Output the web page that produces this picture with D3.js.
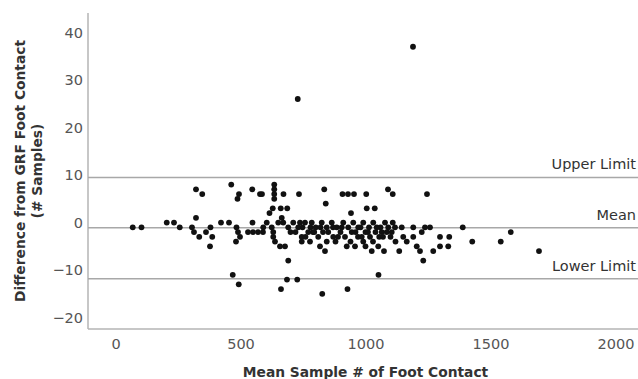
<!DOCTYPE html>
<html>
<head>
<meta charset="utf-8">
<script src="https://cdn.jsdelivr.net/npm/d3@7"></script>
<style>
  html, body { margin: 0; padding: 0; background: #fff; }
  svg { display: block; }
  text { font-family: "DejaVu Sans", sans-serif; }
</style>
</head>
<body>
<svg id="chart" width="638" height="379"></svg>
<script>
// Mean sample index of foot contact (x) and difference from GRF foot contact in samples (y)
const meanSample = [
  69, 104, 205, 234, 257, 322, 347, 322, 306, 314, 335, 362, 380, 387, 378, 422, 454,
  463, 494, 488, 547, 578, 586, 635, 635, 635, 635, 672, 616, 629, 661, 687, 734,
  835, 841, 908, 930, 954, 1003, 1005, 1037, 942, 1090, 1109, 1246, 665,
  469, 493, 686, 727, 662, 827, 928, 1052, 691, 1231,
  729, 1190,
  1298, 1335, 1298, 1331, 1389, 1427, 1541, 1581, 1694,
  484, 490, 498, 482, 530, 550, 570, 590, 548, 591, 605, 625, 631, 651, 671, 691,
  711, 731, 631, 638, 658, 678,
  738, 758, 785, 801, 825, 845, 865, 885, 911, 931, 951, 971, 991, 1014, 1031,
  745, 771, 811, 851, 871, 918, 945, 985, 1018,
  745, 778, 818, 845, 925, 958, 991, 1025, 838,
  1045, 1065, 1078, 1091, 1109, 1118, 1105, 1145, 1151, 1165, 1191, 1191, 1225,
  1238, 1258, 1205, 1218, 1051, 1074, 1135, 1271,
  748, 790, 830, 870, 900, 960, 1000, 1040, 780, 820, 980, 905, 1060, 700, 720,
  760, 890, 1010, 1100,
  1030, 1070, 1085, 1120, 940, 970, 880, 795, 1000, 1055
];
const sampleDiff = [
  -1, -1, 0, 0, -1, 7, 6, 1, -1, -2, -3, -2, -1, -3, -5, 0, 0,
  8, 6, 5, 7, 6, 6, 8, 7, 6, 5, 6, 2, 3, 3, 3, 6,
  7, 4, 6, 6, 6, 6, 3, 3, 2, 7, 6, 6, 1,
  -11, -13, -12, -12, -14, -15, -14, -11, -8, -8,
  26, 37,
  -3, -3, -5, -5, -1, -4, -4, -2, -6,
  -1, -2, -3, -4, -2, -2, -2, -2, 0, -1, 0, -1, -2, 0, 0, -1,
  0, -1, -3, -4, -5, -5,
  0, 0, 0, -1, 0, -1, 0, -1, 0, -1, 0, -1, 0, -1, 0,
  -3, -2, -3, -2, -3, -3, -2, -3, -3,
  -4, -4, -5, -4, -5, -5, -4, -6, -6,
  -1, -2, 0, -1, 0, -1, -2, -1, -3, -4, -1, -3, -2,
  -1, -1, -5, -6, -5, -6, -6, -6,
  -1, -2, -2, -1, -2, -2, -2, -2, -1, -1, -1, -1, -1, -2, -2,
  -3, -3, -2, -3,
  -4, -3, -2, -4, -4, -3, -4, -2, -5, -3
];

// Bias and limits of agreement
const limitNames = ["Upper Limit", "Mean", "Lower Limit"];
const limitValues = [9.5, -1.1, -11.8];

const xTickValues = [0, 500, 1000, 1500, 2000];
const yTickValues = [-20, -10, 0, 10, 20, 30, 40];

const xTitle = "Mean Sample # of Foot Contact";
const yTitleLines = ["Difference from GRF Foot Contact", "(# Samples)"];

const W = 638, H = 379;
const plot = { left: 88, right: 638, top: 13, bottom: 329 };

const svg = d3.select("#chart");

const x = d3.scaleLinear().domain([-110, 2090]).range([plot.left, plot.right]);
const y = d3.scaleLinear().domain([-22.4, 44.1]).range([plot.bottom, plot.top]);

// Axes (labels only, no tick marks)
const xAxis = svg.append("g")
  .attr("transform", `translate(0,${plot.bottom})`)
  .call(d3.axisBottom(x).tickValues(xTickValues).tickSize(0).tickPadding(10).tickFormat(d3.format("d")));
const yAxis = svg.append("g")
  .attr("transform", `translate(${plot.left},0)`)
  .call(d3.axisLeft(y).tickValues(yTickValues).tickSize(0).tickPadding(5).tickFormat(d3.format("d")));

[xAxis, yAxis].forEach(g => {
  g.select(".domain").attr("stroke", "#b5b5b5").attr("stroke-width", 1.5);
  g.selectAll(".tick text")
    .attr("fill", "#555")
    .style("font-size", "14.5px")
    .style("font-family", "'DejaVu Sans', sans-serif");
});
yAxis.select(".domain").attr("d", `M0,${plot.top}V${plot.bottom}`);
xAxis.select(".domain").attr("d", `M${plot.left},0H${plot.right}`);

// Reference lines
svg.append("g").selectAll("line")
  .data(limitValues)
  .join("line")
  .attr("x1", plot.left)
  .attr("x2", plot.right)
  .attr("y1", d => y(d))
  .attr("y2", d => y(d))
  .attr("stroke", "#a8a8a8")
  .attr("stroke-width", 1.5);

svg.append("g").selectAll("text")
  .data(limitNames)
  .join("text")
  .attr("x", plot.right - 2)
  .attr("y", (d, i) => y(limitValues[i]) - 8)
  .attr("text-anchor", "end")
  .attr("fill", "#333")
  .style("font-size", "14.5px")
  .text(d => d);

// Points
const pts = meanSample.map((m, i) => ({ m, d: sampleDiff[i] }));
svg.append("g").selectAll("circle")
  .data(pts)
  .join("circle")
  .attr("cx", p => x(p.m))
  .attr("cy", p => y(p.d))
  .attr("r", 2.9)
  .attr("fill", "#111");

// Axis titles
svg.append("text")
  .attr("x", x(1000))
  .attr("y", 377)
  .attr("text-anchor", "middle")
  .attr("fill", "#333")
  .style("font-size", "13.8px")
  .style("font-weight", "bold")
  .text(xTitle);

const yMid = (plot.top + plot.bottom) / 2;
yTitleLines.forEach((t, i) => {
  svg.append("text")
    .attr("transform", `translate(${25 + i * 17},${yMid}) rotate(-90)`)
    .attr("text-anchor", "middle")
    .attr("fill", "#333")
    .style("font-size", "13.8px")
    .style("font-weight", "bold")
    .text(t);
});
</script>
</body>
</html>
